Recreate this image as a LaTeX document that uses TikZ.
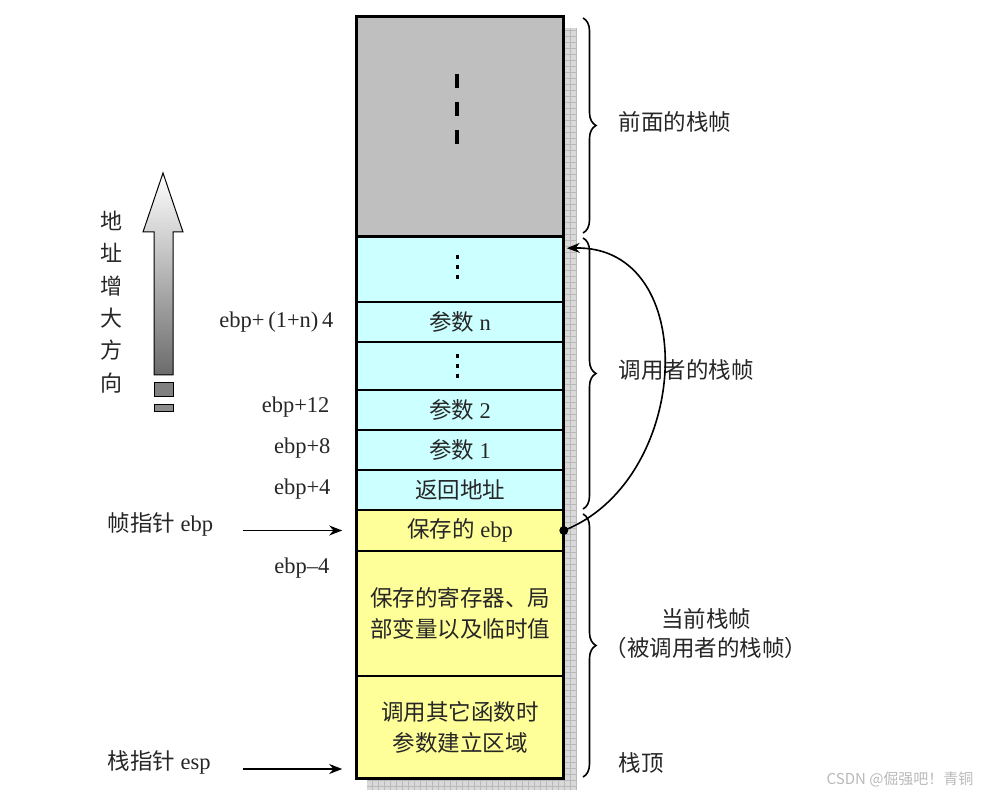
\documentclass[tikz,border=0pt]{standalone}
\usepackage{fontspec}
\setmainfont{Liberation Serif}
\newfontfamily\cjk{Noto Sans CJK SC}
\usepackage{tikz}
\usetikzlibrary{positioning, arrows.meta, decorations.pathreplacing, calc}

\newcommand{\zh}[1]{{\cjk #1}}

\definecolor{callercyan}{RGB}{204,255,255}
\definecolor{calleeyellow}{RGB}{255,255,153}

\tikzset{
  cell/.style={draw, line width=1.6pt, minimum width=206pt, inner sep=0pt,
    align=center, font=\fontsize{22.5}{31}\selectfont, text=black!85},
  lbl/.style={font=\fontsize{22.5}{26}\selectfont, text=black!85},
  bracebar/.style={decorate, decoration={brace, amplitude=13pt}, line width=1.6pt},
  pointer/.style={-{Stealth[length=13pt,width=10pt]}, line width=1.6pt},
}

\begin{document}
\begin{tikzpicture}[x=1pt, y=-1pt]
  \useasboundingbox (0,0) rectangle (983,799);

  % Shadow behind the stack
  \fill[gray!30] (563,28) rectangle (577,790);
  \fill[gray!30] (367,778) rectangle (577,790);
  \draw[gray!55, line width=0.5pt, step=6pt] (563,28) grid (577,790);
  \draw[gray!55, line width=0.5pt, step=6pt] (367,778) grid (577,790);

  % Stack cells
  \node[cell, fill=gray!50, minimum height=219pt] (prev) at (460,126.5) {};
  \node[cell, fill=callercyan, minimum height=66pt] (dots1) at (460,269) {};
  \node[cell, fill=callercyan, minimum height=40pt] (argn) at (460,322) {\zh{参数} n};
  \node[cell, fill=callercyan, minimum height=48pt] (dots2) at (460,366) {};
  \node[cell, fill=callercyan, minimum height=40pt] (arg2) at (460,410) {\zh{参数} 2};
  \node[cell, fill=callercyan, minimum height=40pt] (arg1) at (460,450) {\zh{参数} 1};
  \node[cell, fill=callercyan, minimum height=40pt] (ret) at (460,490) {\zh{返回地址}};
  \node[cell, fill=calleeyellow, minimum height=41pt] (saved) at (460,530.5) {\zh{保存的} ebp};
  \node[cell, fill=calleeyellow, minimum height=125pt] (locals) at (460,613.5)
    {\zh{保存的寄存器、局}\\\zh{部变量以及临时值}};
  \node[cell, fill=calleeyellow, minimum height=102pt] (call) at (460,727)
    {\zh{调用其它函数时}\\\zh{参数建立区域}};

  \draw[line width=2.6pt] (prev.north west) rectangle (call.south east);
  \draw[line width=3pt] (prev.south west) -- (prev.south east);

  % Ellipses
  \draw[line width=4pt, dash pattern=on 14pt off 14pt] (457,74) -- (457,147);
  \draw[line width=3pt, dash pattern=on 4pt off 6pt] (457,255) -- (457,279);
  \draw[line width=3pt, dash pattern=on 4pt off 6pt] (457,354) -- (457,378);

  % Left column
  \node[lbl, anchor=east] (offn) at (337,322) {ebp+\,(1+n)\,4};
  \node[lbl, anchor=east] (off12) at (333,407) {ebp+12};
  \node[lbl, anchor=east] (off8) at (334,448) {ebp+8};
  \node[lbl, anchor=east] (off4) at (334,489) {ebp+4};
  \node[lbl, anchor=east] (offm4) at (333,568) {ebp--4};

  \node[lbl, anchor=west] (fp) at (104,524) {\zh{帧指针} ebp};
  \node[lbl, anchor=west] (sp) at (104,762) {\zh{栈指针} esp};
  \coordinate (spin) at (call.west |- 0,769);
  \draw[pointer, shorten <=26pt, shorten >=14pt] (fp.east |- saved.west) -- (saved.west);
  \draw[pointer, shorten <=29pt, shorten >=14pt] (sp.east |- spin) -- (spin);

  % Growth direction
  \shade[top color=white, bottom color=black!58, draw=black, line width=1pt]
    (154,375) -- (154,232) -- (143,232) -- (163,173) -- (183,232)
    -- (173,232) -- (173,375) -- cycle;
  \draw[fill=black!50, line width=1pt] (154,383) rectangle (173,397);
  \draw[fill=black!45, line width=1pt] (154,405) rectangle (173,412);
  \node[lbl, font=\cjk\fontsize{22}{32.3}\selectfont, align=center] (grow) at (111,302)
    {地\\址\\增\\大\\方\\向};

  % Right column
  \draw[bracebar] (583,18) -- (583,233);
  \draw[bracebar] (583,238) -- (583,509);
  \draw[bracebar] (583,514) -- (583,777);

  \node[lbl, anchor=west] (prevlbl) at (615,122) {\zh{前面的栈帧}};
  \node[lbl, anchor=west] (callerlbl) at (615,370) {\zh{调用者的栈帧}};
  \node[lbl] (curlbl) at (706,619) {\zh{当前栈帧}};
  \node[lbl] (calleelbl) at (706,648) {\zh{（被调用者的栈帧）}};
  \node[lbl, anchor=west] (toplbl) at (615,763) {\zh{栈顶}};

  % Saved ebp points back to the caller's frame
  \coordinate (oldebp) at ($(dots1.north east)+(3,13)$);
  \fill (saved.east) circle (4.5pt);
  \draw[pointer] (saved.east) .. controls (692,480) and (702,245) .. (oldebp);

  \node[font=\cjk\fontsize{15}{18}\selectfont, text=gray!55, anchor=east] (mark)
    at (977,779) {CSDN @倔强吧！青铜};
\end{tikzpicture}
\end{document}
